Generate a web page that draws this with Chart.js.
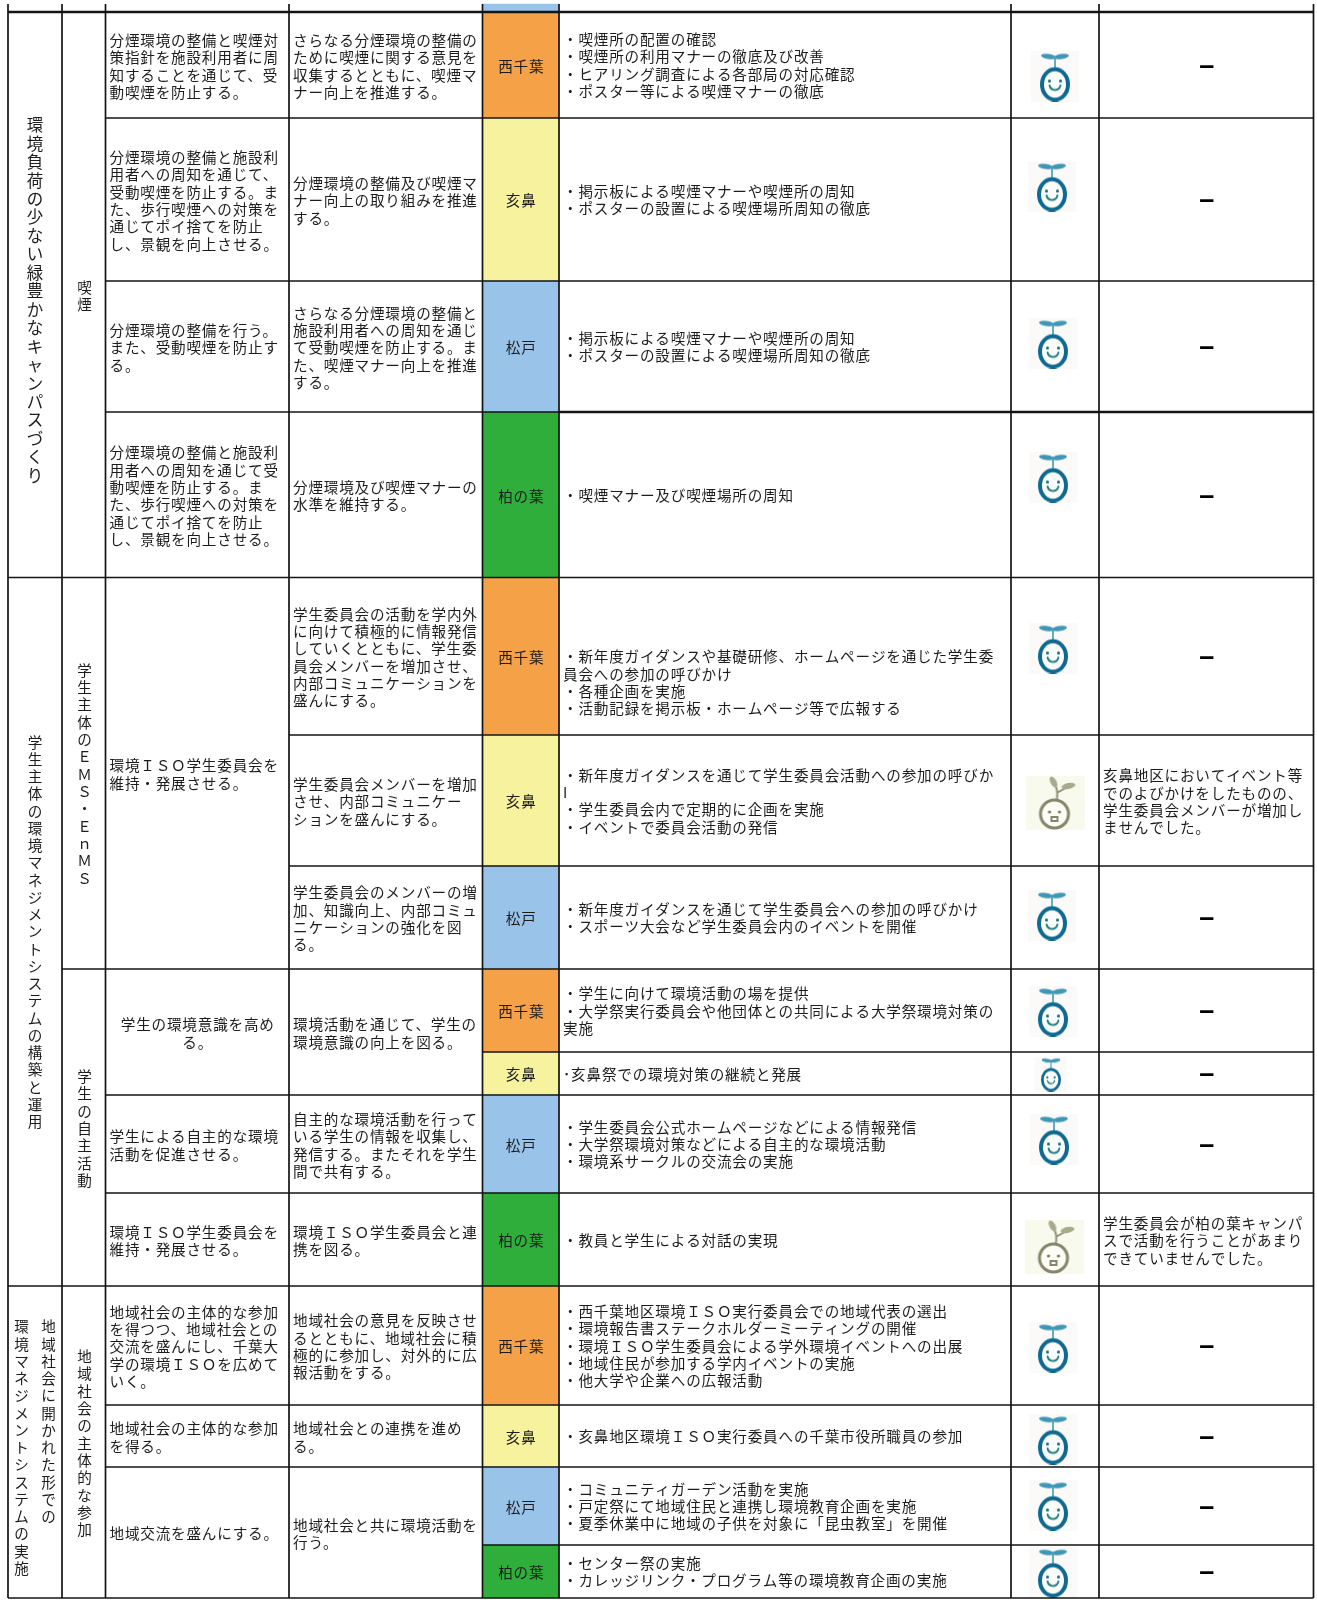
<!DOCTYPE html>
<html lang="ja">
<head>
<meta charset="utf-8">
<title>環境目標と実施状況</title>
<style>
  html, body { margin: 0; padding: 0; background: #fff; }
  canvas { display: block; }
</style>
<script src="https://cdn.jsdelivr.net/npm/chart.js@4"></script>
</head>
<body>
<canvas id="table-chart" width="1317" height="1600"></canvas>
<script>
// table rulings
const colEdges = [8, 62, 105.5, 289, 482.5, 559, 1011, 1099, 1313.5];
const rowEdges = [12, 118, 281, 412, 577.5, 735, 866, 969, 1052, 1095, 1193, 1286, 1405, 1467, 1545, 1598];
const stripTop = 4;

const campusNames = ['西千葉', '亥鼻', '松戸', '柏の葉'];
const campusColors = ['#f4a148', '#f6f29e', '#99c3e9', '#2fae3b'];
const rowCampus = [0, 1, 2, 3, 0, 1, 2, 0, 1, 2, 3, 0, 1, 2, 3];

// [first row, row after last, labels] - one column per label, right to left
const policyCells = [
  [0, 4, ['環境負荷の少ない緑豊かなキャンパスづくり']],
  [4, 11, ['学生主体の環境マネジメントシステムの構築と運用']],
  [11, 15, ['地域社会に開かれた形での', '環境マネジメントシステムの実施']]
];
const itemCells = [
  [0, 4, '喫煙'],
  [4, 7, '学生主体のＥＭＳ・ＥｎＭＳ'],
  [7, 11, '学生の自主活動'],
  [11, 15, '地域社会の主体的な参加']
];
const targetCells = [
  [0, 1, ['分煙環境の整備と喫煙対', '策指針を施設利用者に周', '知することを通じて、受', '動喫煙を防止する。']],
  [1, 2, ['分煙環境の整備と施設利', '用者への周知を通じて、', '受動喫煙を防止する。ま', 'た、歩行喫煙への対策を', '通じてポイ捨てを防止', 'し、景観を向上させる。']],
  [2, 3, ['分煙環境の整備を行う。', 'また、受動喫煙を防止す', 'る。']],
  [3, 4, ['分煙環境の整備と施設利', '用者への周知を通じて受', '動喫煙を防止する。ま', 'た、歩行喫煙への対策を', '通じてポイ捨てを防止', 'し、景観を向上させる。']],
  [4, 7, ['環境ＩＳＯ学生委員会を', '維持・発展させる。']],
  [7, 9, ['学生の環境意識を高め', 'る。'], 'center'],
  [9, 10, ['学生による自主的な環境', '活動を促進させる。']],
  [10, 11, ['環境ＩＳＯ学生委員会を', '維持・発展させる。']],
  [11, 12, ['地域社会の主体的な参加', 'を得つつ、地域社会との', '交流を盛んにし、千葉大', '学の環境ＩＳＯを広めて', 'いく。']],
  [12, 13, ['地域社会の主体的な参加', 'を得る。']],
  [13, 15, ['地域交流を盛んにする。']]
];
const planCells = [
  [0, 1, ['さらなる分煙環境の整備の', 'ために喫煙に関する意見を', '収集するとともに、喫煙マ', 'ナー向上を推進する。']],
  [1, 2, ['分煙環境の整備及び喫煙マ', 'ナー向上の取り組みを推進', 'する。']],
  [2, 3, ['さらなる分煙環境の整備と', '施設利用者への周知を通じ', 'て受動喫煙を防止する。ま', 'た、喫煙マナー向上を推進', 'する。']],
  [3, 4, ['分煙環境及び喫煙マナーの', '水準を維持する。']],
  [4, 5, ['学生委員会の活動を学内外', 'に向けて積極的に情報発信', 'していくとともに、学生委', '員会メンバーを増加させ、', '内部コミュニケーションを', '盛んにする。']],
  [5, 6, ['学生委員会メンバーを増加', 'させ、内部コミュニケー', 'ションを盛んにする。']],
  [6, 7, ['学生委員会のメンバーの増', '加、知識向上、内部コミュ', 'ニケーションの強化を図', 'る。']],
  [7, 9, ['環境活動を通じて、学生の', '環境意識の向上を図る。']],
  [9, 10, ['自主的な環境活動を行って', 'いる学生の情報を収集し、', '発信する。またそれを学生', '間で共有する。']],
  [10, 11, ['環境ＩＳＯ学生委員会と連', '携を図る。']],
  [11, 12, ['地域社会の意見を反映させ', 'るとともに、地域社会に積', '極的に参加し、対外的に広', '報活動をする。']],
  [12, 13, ['地域社会との連携を進め', 'る。']],
  [13, 15, ['地域社会と共に環境活動を', '行う。']]
];
const activityLines = [
  ['・喫煙所の配置の確認', '・喫煙所の利用マナーの徹底及び改善', '・ヒアリング調査による各部局の対応確認', '・ポスター等による喫煙マナーの徹底'],
  ['・掲示板による喫煙マナーや喫煙所の周知', '・ポスターの設置による喫煙場所周知の徹底'],
  ['・掲示板による喫煙マナーや喫煙所の周知', '・ポスターの設置による喫煙場所周知の徹底'],
  ['・喫煙マナー及び喫煙場所の周知'],
  ['', '', '', '・新年度ガイダンスや基礎研修、ホームページを通じた学生委', '員会への参加の呼びかけ', '・各種企画を実施', '・活動記録を掲示板・ホームページ等で広報する'],
  ['・新年度ガイダンスを通じて学生委員会活動への参加の呼びか', 'I', '・学生委員会内で定期的に企画を実施', '・イベントで委員会活動の発信'],
  ['・新年度ガイダンスを通じて学生委員会への参加の呼びかけ', '・スポーツ大会など学生委員会内のイベントを開催'],
  ['・学生に向けて環境活動の場を提供', '・大学祭実行委員会や他団体との共同による大学祭環境対策の', '実施'],
  ['･亥鼻祭での環境対策の継続と発展'],
  ['・学生委員会公式ホームページなどによる情報発信', '・大学祭環境対策などによる自主的な環境活動', '・環境系サークルの交流会の実施'],
  ['・教員と学生による対話の実現'],
  ['・西千葉地区環境ＩＳＯ実行委員会での地域代表の選出', '・環境報告書ステークホルダーミーティングの開催', '・環境ＩＳＯ学生委員会による学外環境イベントへの出展', '・地域住民が参加する学内イベントの実施', '・他大学や企業への広報活動'],
  ['・亥鼻地区環境ＩＳＯ実行委員への千葉市役所職員の参加'],
  ['・コミュニティガーデン活動を実施', '・戸定祭にて地域住民と連携し環境教育企画を実施', '・夏季休業中に地域の子供を対象に「昆虫教室」を開催'],
  ['・センター祭の実施', '・カレッジリンク・プログラム等の環境教育企画の実施']
];
const remarkLines = [
  null, null, null, null, null,
  ['亥鼻地区においてイベント等', 'でのよびかけをしたものの、', '学生委員会メンバーが増加し', 'ませんでした。'],
  null, null, null, null,
  ['学生委員会が柏の葉キャンパ', 'スで活動を行うことがあまり', 'できていませんでした。'],
  null, null, null, null
];

// self assessment mark per row: 0 = good sprout, 1 = weak sprout
const rowGrade = [0, 0, 0, 0, 0, 1, 0, 0, 0, 0, 1, 0, 0, 0, 0];
const gradeX = [1055, 1052, 1053, 1053, 1053, 1055, 1052, 1053, 1051, 1054, 1054, 1053, 1053, 1053, 1053];
const gradeY = [76, 186, 343, 477, 648, 803, 915, 1011, 1074, 1139, 1247, 1347, 1439, 1505, 1572];

const FONT = '"Noto Sans CJK JP", "Noto Sans CJK SC", sans-serif';
const LINE_COLOR = '#141414';
const TEXT_COLOR = '#1c1c1c';

function makeSprout(width, height) {
  const c = document.createElement('canvas');
  c.width = width;
  c.height = height;
  const g = c.getContext('2d');
  const s = width / 48;
  g.fillStyle = '#fbfaf8';
  g.fillRect(0, 0, width, height);
  g.scale(s, height / 51);
  g.lineCap = 'round';
  g.filter = 'blur(0.7px)';
  // leaves and stem
  g.fillStyle = '#3f97b8';
  g.beginPath();
  g.ellipse(17.5, 6, 7.5, 2.6, 0.15, 0, Math.PI * 2);
  g.ellipse(30.5, 6, 7.5, 2.6, -0.15, 0, Math.PI * 2);
  g.fill();
  g.strokeStyle = '#4a9fbd';
  g.lineWidth = 1.7;
  g.beginPath();
  g.moveTo(24, 6);
  g.lineTo(24, 19);
  g.stroke();
  // body
  g.strokeStyle = '#0f6a93';
  g.lineWidth = 4;
  g.fillStyle = '#fbfdfd';
  g.beginPath();
  g.ellipse(24, 34, 13, 15.2, 0, 0, Math.PI * 2);
  g.fill();
  g.stroke();
  // face
  g.fillStyle = '#1d6f70';
  g.beginPath();
  g.arc(18.5, 30.5, 1.6, 0, Math.PI * 2);
  g.arc(29.5, 30.5, 1.6, 0, Math.PI * 2);
  g.fill();
  g.strokeStyle = '#22817c';
  g.lineWidth = 2;
  g.beginPath();
  g.arc(24, 34, 5.5, 0.2, Math.PI - 0.2);
  g.stroke();
  return c;
}

function makeWeakSprout(width, height) {
  const c = document.createElement('canvas');
  c.width = width;
  c.height = height;
  const g = c.getContext('2d');
  g.fillStyle = '#f9faee';
  g.fillRect(0, 0, width, height);
  g.scale(width / 59, height / 54);
  g.lineCap = 'round';
  g.filter = 'blur(0.7px)';
  g.strokeStyle = '#8f9174';
  g.lineWidth = 2;
  g.beginPath();
  g.moveTo(31, 25);
  g.quadraticCurveTo(33, 16, 30, 10);
  g.moveTo(33, 16);
  g.lineTo(42, 11);
  g.stroke();
  g.fillStyle = '#a9aa8c';
  g.beginPath();
  g.ellipse(28, 6, 3, 6, -0.5, 0, Math.PI * 2);
  g.ellipse(43, 10, 7, 3, -0.2, 0, Math.PI * 2);
  g.fill();
  g.strokeStyle = '#85866a';
  g.lineWidth = 3;
  g.fillStyle = '#fdfdf6';
  g.beginPath();
  g.arc(29, 38, 14, 0, Math.PI * 2);
  g.fill();
  g.stroke();
  g.fillStyle = '#77785e';
  g.beginPath();
  g.arc(24, 36, 1.6, 0, Math.PI * 2);
  g.arc(34, 36, 1.6, 0, Math.PI * 2);
  g.fill();
  g.lineWidth = 2;
  g.strokeRect(26, 41, 6, 4);
  return c;
}

const spriteNormal = makeSprout(48, 51);
const spriteSmall = makeSprout(32, 35);
const spriteWeak = makeWeakSprout(59, 54);

function spriteFor(row) {
  if (rowGrade[row] === 1) return spriteWeak;
  return rowEdges[row + 1] - rowEdges[row] < 50 ? spriteSmall : spriteNormal;
}

// rulings as line segments, one list per column
function spanEdges(cells) {
  const edges = new Set();
  cells.forEach(cell => { edges.add(cell[0]); edges.add(cell[1]); });
  return [...edges];
}

function horizontalRules() {
  const allRows = rowEdges.map((_, i) => i);
  const columns = [
    spanEdges(policyCells),
    spanEdges(itemCells),
    spanEdges(targetCells),
    spanEdges(planCells),
    allRows, allRows, allRows, allRows
  ];
  const points = [];
  columns.forEach((rows, col) => {
    rows.forEach(r => {
      points.push({ x: colEdges[col], y: rowEdges[r] });
      points.push({ x: colEdges[col + 1], y: rowEdges[r] });
      points.push({ x: NaN, y: NaN });
    });
  });
  return points;
}

function verticalRules() {
  const points = [];
  colEdges.forEach(x => {
    points.push({ x: x, y: stripTop });
    points.push({ x: x, y: rowEdges[rowEdges.length - 1] });
    points.push({ x: NaN, y: NaN });
  });
  return points;
}

function heavyRules() {
  return [
    { x: colEdges[0], y: rowEdges[0] }, { x: colEdges[8], y: rowEdges[0] },
    { x: NaN, y: NaN },
    { x: colEdges[5], y: rowEdges[3] }, { x: colEdges[8], y: rowEdges[3] }
  ];
}

function spaced(ctx, size, spacing, color) {
  ctx.font = size + 'px ' + FONT;
  ctx.letterSpacing = spacing + 'px';
  ctx.fillStyle = color;
  ctx.textBaseline = 'middle';
}

function drawBlock(chart, col, firstRow, endRow, lines, align, nudge) {
  const { ctx, scales } = chart;
  const lineGap = 17.33;
  const midY = scales.y.getPixelForValue((rowEdges[firstRow] + rowEdges[endRow]) / 2) + 1.3 + (nudge || 0);
  const top = midY - (lines.length - 1) * lineGap / 2;
  const left = scales.x.getPixelForValue(colEdges[col]);
  const right = scales.x.getPixelForValue(colEdges[col + 1]);
  ctx.textAlign = align || 'left';
  const x = align === 'center' ? (left + right) / 2 + 0.5 : left + 4;
  lines.forEach((line, i) => ctx.fillText(line, x, top + i * lineGap));
}

function drawVertical(chart, col, firstRow, endRow, labels, size, pitch, shift) {
  const { ctx, scales } = chart;
  const midX = scales.x.getPixelForValue((colEdges[col] + colEdges[col + 1]) / 2) + (col === 1 ? 0.8 : 0);
  const midY = scales.y.getPixelForValue((rowEdges[firstRow] + rowEdges[endRow]) / 2) + shift;
  const longest = Math.max(...labels.map(l => l.length));
  const top = midY - (longest - 1) * pitch / 2;
  ctx.font = size + 'px ' + FONT;
  ctx.letterSpacing = '0px';
  ctx.textAlign = 'center';
  labels.forEach((label, i) => {
    const x = midX + ((labels.length - 1) / 2 - i) * 27;
    [...label].forEach((ch, j) => ctx.fillText(ch, x, top + j * pitch));
  });
}

const tableText = {
  id: 'tableText',
  afterDatasetsDraw(chart) {
    const { ctx } = chart;
    ctx.save();
    spaced(ctx, 14.6, 0.8, TEXT_COLOR);

    targetCells.forEach(c => drawBlock(chart, 2, c[0], c[1], c[2], c[3]));
    planCells.forEach(c => drawBlock(chart, 3, c[0], c[1], c[2], c[3]));
    activityLines.forEach((lines, row) => drawBlock(chart, 5, row, row + 1, lines, 'left', -0.7));

    // campus names sit in the coloured bars
    rowCampus.forEach((campus, row) => {
      drawBlock(chart, 4, row, row + 1, [campusNames[campus]], 'center');
    });

    remarkLines.forEach((lines, row) => {
      if (lines) {
        spaced(ctx, 14.6, 0.8, TEXT_COLOR);
        drawBlock(chart, 7, row, row + 1, lines);
      } else {
        spaced(ctx, 16, 0, '#000');
        ctx.font = 'bold 27px "Liberation Sans"';
        drawBlock(chart, 7, row, row + 1, ['–'], 'center');
      }
    });

    ctx.fillStyle = TEXT_COLOR;
    policyCells.forEach((c, i) => {
      const big = i === 0;
      const shift = i === 1 ? 0 : 5.5;
      drawVertical(chart, 0, c[0], c[1], c[2], big ? 16.5 : 14.6, big ? 18.45 : 17.25, shift);
    });
    itemCells.forEach(c => drawVertical(chart, 1, c[0], c[1], [c[2]], 14.6, 17.33, 1));
    ctx.restore();
  }
};

new Chart(document.getElementById('table-chart'), {
  data: {
    datasets: [
      {
        type: 'scatter',
        label: '自己評価',
        data: rowGrade.map((_, row) => ({ x: gradeX[row], y: gradeY[row] })),
        pointStyle: rowGrade.map((_, row) => spriteFor(row)),
        pointRadius: 10,
        order: 3
      },
      {
        type: 'bar',
        label: 'キャンパス',
        data: [{ x: (colEdges[4] + colEdges[5]) / 2, y: [stripTop, rowEdges[0]] }].concat(
          rowCampus.map((_, row) => ({ x: (colEdges[4] + colEdges[5]) / 2, y: [rowEdges[row], rowEdges[row + 1]] }))
        ),
        backgroundColor: [campusColors[2]].concat(rowCampus.map(c => campusColors[c])),
        barThickness: colEdges[5] - colEdges[4],
        borderWidth: 0,
        order: 2
      },
      {
        type: 'line',
        label: '横罫',
        data: horizontalRules(),
        borderColor: LINE_COLOR,
        borderWidth: 1.6,
        pointRadius: 0,
        spanGaps: false,
        order: 1
      },
      {
        type: 'line',
        label: '縦罫',
        data: verticalRules(),
        borderColor: LINE_COLOR,
        borderWidth: 1.7,
        pointRadius: 0,
        spanGaps: false,
        order: 1
      },
      {
        type: 'line',
        label: '太罫',
        data: heavyRules(),
        borderColor: LINE_COLOR,
        borderWidth: 2.4,
        pointRadius: 0,
        spanGaps: false,
        order: 1
      }
    ]
  },
  options: {
    responsive: false,
    animation: false,
    layout: { padding: 0, autoPadding: false },
    scales: {
      x: { type: 'linear', min: 0, max: 1317, offset: false, display: false },
      y: { type: 'linear', min: 0, max: 1600, reverse: true, display: false }
    },
    plugins: {
      legend: { display: false },
      tooltip: { enabled: false }
    }
  },
  plugins: [tableText]
});
</script>
</body>
</html>
